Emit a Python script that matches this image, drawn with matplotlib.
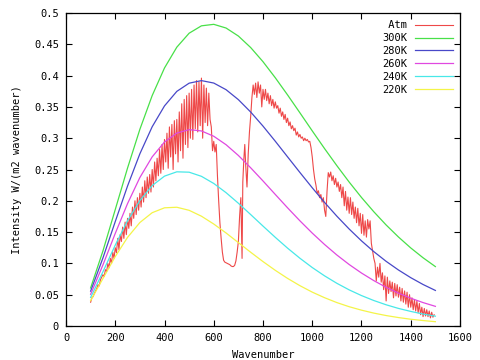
import matplotlib
matplotlib.use("Agg")
import matplotlib.pyplot as plt

# Planck curves, sampled every 50 wavenumbers
nu = [100, 150, 200, 250, 300, 350, 400, 450, 500, 550, 600, 650, 700, 750,
      800, 850, 900, 950, 1000, 1050, 1100, 1150, 1200, 1250, 1300, 1350,
      1400, 1450, 1500]
b300 = [0.0608, 0.1199, 0.1860, 0.2524, 0.3142, 0.3681, 0.4122, 0.4454, 0.4677,
        0.4795, 0.4819, 0.4760, 0.4632, 0.4448, 0.4222, 0.3965, 0.3690, 0.3405,
        0.3117, 0.2834, 0.2561, 0.2299, 0.2053, 0.1825, 0.1614, 0.1422, 0.1247,
        0.1090, 0.0949]
b280 = [0.0557, 0.1087, 0.1668, 0.2237, 0.2751, 0.3183, 0.3516, 0.3748, 0.3879,
        0.3920, 0.3881, 0.3775, 0.3616, 0.3418, 0.3193, 0.2951, 0.2701, 0.2452,
        0.2208, 0.1974, 0.1754, 0.1549, 0.1360, 0.1188, 0.1033, 0.0895, 0.0772,
        0.0663, 0.0568]
b260 = [0.0506, 0.0976, 0.1479, 0.1956, 0.2372, 0.2702, 0.2939, 0.3082, 0.3137,
        0.3116, 0.3031, 0.2896, 0.2724, 0.2527, 0.2317, 0.2101, 0.1887, 0.1680,
        0.1484, 0.1302, 0.1134, 0.0982, 0.0846, 0.0725, 0.0618, 0.0525, 0.0444,
        0.0374, 0.0314]
b240 = [0.0456, 0.0866, 0.1292, 0.1682, 0.2004, 0.2243, 0.2394, 0.2463, 0.2457,
        0.2391, 0.2277, 0.2130, 0.1961, 0.1780, 0.1596, 0.1416, 0.1243, 0.1082,
        0.0934, 0.0801, 0.0682, 0.0577, 0.0486, 0.0407, 0.0339, 0.0281, 0.0233,
        0.0191, 0.0157]
b220 = [0.0405, 0.0758, 0.1109, 0.1416, 0.1653, 0.1810, 0.1888, 0.1897, 0.1848,
        0.1754, 0.1629, 0.1486, 0.1332, 0.1178, 0.1029, 0.0889, 0.0760, 0.0644,
        0.0541, 0.0452, 0.0374, 0.0308, 0.0253, 0.0206, 0.0167, 0.0135, 0.0108,
        0.0087, 0.0069]

# atmosphere spectrum
atm_nu = list(range(100, 715, 5)) + [715, 718, 722, 726, 730, 735] + list(range(740, 1500, 5))
atm = [0.038, 0.045, 0.047, 0.052, 0.056, 0.060, 0.066, 0.064, 0.074, 0.078,
       0.082, 0.079, 0.090, 0.087, 0.100, 0.093, 0.108, 0.100, 0.118, 0.108,
       0.125, 0.117, 0.140, 0.122, 0.146, 0.135, 0.158, 0.140, 0.166, 0.146,
       0.172, 0.156, 0.180, 0.160, 0.190, 0.172, 0.200, 0.178, 0.205, 0.185,
       0.212, 0.190, 0.222, 0.198, 0.232, 0.205, 0.238, 0.212, 0.242, 0.214,
       0.250, 0.222, 0.262, 0.232, 0.268, 0.240, 0.282, 0.244, 0.290, 0.250,
       0.298, 0.262, 0.308, 0.252, 0.318, 0.270, 0.322, 0.250, 0.328, 0.275,
       0.330, 0.262, 0.342, 0.280, 0.355, 0.268, 0.362, 0.290, 0.368, 0.285,
       0.372, 0.300, 0.378, 0.298, 0.385, 0.315, 0.392, 0.310, 0.390, 0.320,
       0.396, 0.300, 0.385, 0.325, 0.380, 0.320, 0.372, 0.330, 0.318, 0.280,
       0.295, 0.278, 0.290, 0.240, 0.200, 0.165, 0.140, 0.118, 0.105, 0.102,
       0.101, 0.100, 0.099, 0.098, 0.096, 0.095, 0.095, 0.097, 0.104, 0.118,
       0.135, 0.175, 0.205,
       0.108, 0.230, 0.265, 0.290, 0.255, 0.222,
       0.275, 0.310, 0.335, 0.365, 0.385, 0.370, 0.388, 0.365, 0.390, 0.372,
       0.385, 0.350, 0.378, 0.362, 0.378, 0.360, 0.372, 0.355, 0.368, 0.352,
       0.362, 0.348, 0.358, 0.348, 0.352, 0.340, 0.348, 0.335, 0.342, 0.330,
       0.338, 0.325, 0.332, 0.320, 0.326, 0.315, 0.320, 0.312, 0.316, 0.305,
       0.310, 0.302, 0.306, 0.300, 0.302, 0.296, 0.300, 0.296, 0.298, 0.294,
       0.295, 0.285, 0.270, 0.250, 0.235, 0.225, 0.212, 0.216, 0.205, 0.210,
       0.198, 0.205, 0.185, 0.175, 0.215, 0.245, 0.238, 0.246, 0.232, 0.240,
       0.226, 0.236, 0.222, 0.230, 0.215, 0.226, 0.205, 0.222, 0.192, 0.215,
       0.185, 0.206, 0.180, 0.205, 0.178, 0.198, 0.172, 0.190, 0.165, 0.188,
       0.160, 0.180, 0.148, 0.178, 0.145, 0.168, 0.142, 0.170, 0.155, 0.168,
       0.132, 0.120, 0.108, 0.100, 0.072, 0.094, 0.078, 0.100, 0.070, 0.085,
       0.058, 0.080, 0.040, 0.078, 0.052, 0.072, 0.055, 0.070, 0.045, 0.068,
       0.048, 0.066, 0.046, 0.062, 0.040, 0.060, 0.038, 0.056, 0.035, 0.054,
       0.030, 0.050, 0.030, 0.045, 0.026, 0.042, 0.024, 0.040, 0.021, 0.036,
       0.018, 0.030, 0.015, 0.028, 0.016, 0.026, 0.015, 0.024, 0.013, 0.022,
       0.014, 0.018]

plt.rcParams['font.family'] = 'DejaVu Sans Mono'
plt.rcParams['font.size'] = 7.5

fig = plt.figure(figsize=(4.8, 3.6), dpi=100)
ax = fig.add_axes([66/480, 34/360, 394/480, 313/360])

ax.plot(atm_nu, atm, color='#ee4848', lw=0.8, label=' Atm')
ax.plot(nu, b300, color='#48e048', lw=0.9, label='300K')
ax.plot(nu, b280, color='#4848c8', lw=0.9, label='280K')
ax.plot(nu, b260, color='#e048e0', lw=0.9, label='260K')
ax.plot(nu, b240, color='#48e8e8', lw=0.9, label='240K')
ax.plot(nu, b220, color='#f4f448', lw=0.9, label='220K')

ax.set_xlim(0, 1600)
ax.set_ylim(0, 0.5)
ax.set_xticks(range(0, 1601, 200))
ax.set_yticks([0, 0.05, 0.1, 0.15, 0.2, 0.25, 0.3, 0.35, 0.4, 0.45, 0.5])
ax.set_yticklabels(['0', '0.05', '0.1', '0.15', '0.2', '0.25', '0.3', '0.35', '0.4', '0.45', '0.5'])
ax.tick_params(direction='in', top=True, right=True, length=4, width=0.8, pad=5)
for s in ax.spines.values():
    s.set_linewidth(0.9)

ax.set_xlabel('Wavenumber', labelpad=5)
ax.set_ylabel('Intensity W/(m2 wavenumber)', labelpad=9)

ax.legend(loc='upper right', frameon=False, markerfirst=False, handlelength=3.6,
          labelspacing=0.28, handletextpad=0.8, borderaxespad=0.3)

plt.savefig('out.png', dpi=100)
